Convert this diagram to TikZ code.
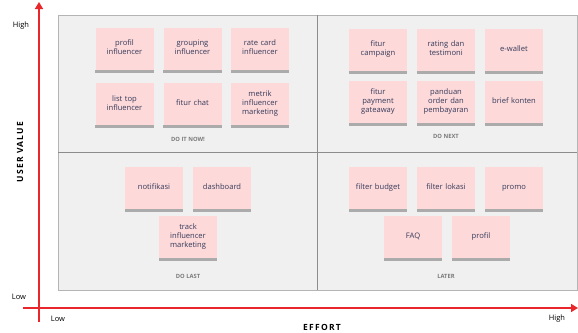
\documentclass[tikz,border=0pt]{standalone}
\usepackage{fontspec}
\setmainfont{Open Sans}
\usetikzlibrary{arrows.meta}
\definecolor{stickypink}{HTML}{FDD9D9}
\definecolor{stickytext}{HTML}{353A5A}
\definecolor{shadowgray}{HTML}{ABABAB}
\definecolor{boxfill}{HTML}{F0F0F0}
\definecolor{boxline}{HTML}{B4B4B4}
\definecolor{divline}{HTML}{8C8C8C}
\definecolor{axisred}{HTML}{E8262B}
\definecolor{quadgray}{HTML}{7A7A7A}
\tikzset{
 sticky/.style={fill=stickypink, minimum width=57pt, minimum height=42pt, inner sep=1pt, align=center, text=stickytext, font=\fontsize{7.6}{9}\selectfont, text width=56pt},
 quadlabel/.style={font=\bfseries\fontsize{5.8}{7}\selectfont, text=quadgray},
 axislabel/.style={font=\fontsize{7.5}{9}\selectfont},
 axistitle/.style={font=\bfseries\fontsize{8.5}{10}\selectfont\addfontfeature{LetterSpace=15}},
 axisline/.style={draw=axisred, line width=1.5pt, -{Triangle[width=8pt,length=7pt]}},
}
\newcommand\stk[4]{\node[sticky] (#1) at (#2,#3) {\strut#4\strut}; \fill[shadowgray] (#1.south west) rectangle ([yshift=-3pt]#1.south east);}
\begin{document}
\begin{tikzpicture}[x=1pt,y=-1pt]
\useasboundingbox (0,0) rectangle (578,332);
\draw[boxline, fill=boxfill, line width=0.8pt] (58,15) rectangle (577,290);
\draw[divline, line width=0.8pt] (317,15) -- (317,290);
\draw[divline, line width=0.8pt] (58,152) -- (577,152);
% top-left
\stk{profil}{124.5}{48.5}{profil\\influencer}
\stk{grouping}{192.5}{48.5}{grouping\\influencer}
\stk{ratecard}{260}{48.5}{rate card\\influencer}
\stk{listtop}{124.5}{104}{list top\\influencer}
\stk{chat}{192.5}{104}{fitur chat}
\stk{metrik}{260}{104}{metrik\\influencer\\marketing}
\node[quadlabel] (doitnow) at (188,139) {DO IT NOW!};
% top-right
\stk{campaign}{378}{49.5}{fitur\\campaign}
\stk{rating}{446}{49.5}{rating dan\\testimoni}
\stk{ewallet}{514}{49.5}{e-wallet}
\stk{payment}{378}{102}{fitur\\payment\\gateaway}
\stk{panduan}{446}{102}{panduan\\order dan\\pembayaran}
\stk{brief}{514}{102}{brief konten}
\node[quadlabel] (donext) at (446,136) {DO NEXT};
% bottom-left
\stk{notif}{154}{187.5}{notifikasi}
\stk{dash}{222}{187.5}{dashboard}
\stk{track}{188}{237}{track\\influencer\\marketing}
\node[quadlabel] (dolast) at (188,276) {DO LAST};
% bottom-right
\stk{budget}{378}{187.5}{filter budget}
\stk{lokasi}{446}{187.5}{filter lokasi}
\stk{promo}{514}{187.5}{promo}
\stk{faq}{413}{237}{FAQ}
\stk{profil2}{481}{237}{profil}
\node[quadlabel] (later) at (446,276) {LATER};
% axes
\coordinate (vbot) at (39,322);
\coordinate (vtop) at (39,2);
\coordinate (hleft) at (23,308);
\coordinate (hright) at (578,308);
\draw[axisline] (vbot) -- (vtop);
\draw[axisline] (hleft) -- (hright);
\node[axislabel] (yhigh) at (21,26) {High};
\node[axislabel] (ylow) at (19,297) {Low};
\node[axislabel] (xlow) at (58,319) {Low};
\node[axislabel] (xhigh) at (557,319) {High};
\node[axistitle] (effort) at (322,327) {EFFORT};
\node[axistitle, rotate=90] (uservalue) at (20,152) {USER VALUE};
\end{tikzpicture}
\end{document}
